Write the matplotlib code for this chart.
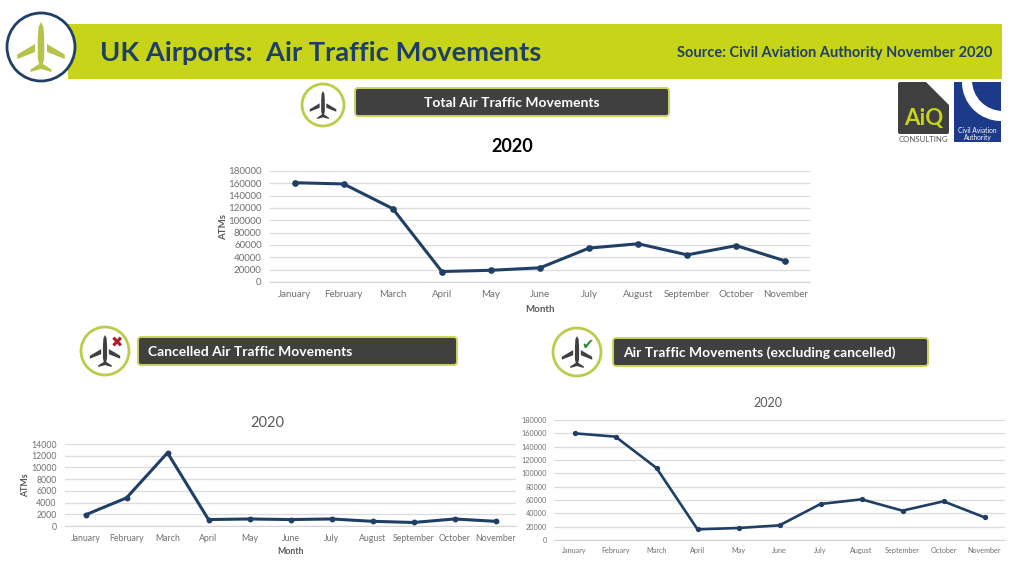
import matplotlib
matplotlib.use("Agg")
import matplotlib.pyplot as plt
from matplotlib.patches import Circle, FancyBboxPatch, Polygon, Rectangle

plt.rcParams['font.family'] = ['Lato', 'DejaVu Sans']

months = ["January", "February", "March", "April", "May", "June", "July",
          "August", "September", "October", "November"]
total_atms = [161000, 159000, 119000, 17000, 19000, 23000, 55000, 62000, 44000, 59000, 34000]
cancelled_atms = [1900, 4800, 12500, 1100, 1200, 1100, 1200, 800, 600, 1200, 800]
excluding_atms = [160000, 155000, 108000, 16000, 18000, 22000, 54000, 61000, 44000, 58000, 34000]
ticks_total = list(range(0, 180001, 20000))
ticks_cancelled = list(range(0, 14001, 2000))

NAVY = "#1F3F66"
LIME = "#C8D418"
W, H = 1024, 576
fig = plt.figure(figsize=(W / 100, H / 100), dpi=100, facecolor="white")

bg = fig.add_axes([0, 0, 1, 1], zorder=0)
bg.set_xlim(0, W)
bg.set_ylim(H, 0)
bg.axis("off")


def plane(ax, cx, cy, s, color):
    body = [(0, -1), (.1, -.8), (.13, -.3), (.13, .45), (.08, .68), (.42, .9), (.42, 1),
            (0, .88), (-.42, 1), (-.42, .9), (-.08, .68), (-.13, .45), (-.13, -.3), (-.1, -.8)]
    wing_r = [(.24, -.12), (.95, .3), (.95, .48), (.24, .2)]
    wing_l = [(-x, y) for x, y in wing_r]
    for pts in (body, wing_r, wing_l):
        ax.add_patch(Polygon([(cx + x * s, cy + y * s) for x, y in pts], closed=True,
                             fc=color, ec="none", zorder=5))


def pill(ax, x0, y0, x1, y1, label, tx, ha):
    ax.add_patch(FancyBboxPatch((x0 + 3, y0 + 3), x1 - x0 - 6, y1 - y0 - 6,
                                boxstyle="round,pad=3,rounding_size=3", fc="#404040",
                                ec="#C9D65A", lw=1.4, zorder=3))
    ax.text(tx, (y0 + y1) / 2 + 0.8, label, color="white", fontsize=10, fontweight="bold",
            ha=ha, va="center", zorder=4)


# Header band
bg.add_patch(Rectangle((68, 24), 934, 55, fc=LIME, ec="none"))
bg.add_patch(Circle((41, 47), 34, fc="white", ec=NAVY, lw=2, zorder=3))
plane(bg, 41, 47, 25, "#B5C34A")
bg.text(100, 53, "UK Airports:  Air Traffic Movements", color=NAVY, fontsize=19.7,
        fontweight="bold", ha="left", va="center", zorder=4)
bg.text(992, 53, "Source: Civil Aviation Authority November 2020", color=NAVY, fontsize=10.5,
        fontweight="bold", ha="right", va="center", zorder=4)

# Section labels
for (cx, cy, r) in [(323, 105, 21), (105, 351, 24), (577, 352, 24)]:
    bg.add_patch(Circle((cx, cy), r, fc="white", ec="#BDCB4B", lw=2, zorder=3))
plane(bg, 323, 105, 14, "#404040")
plane(bg, 105, 351, 16, "#404040")
plane(bg, 577, 352, 16, "#404040")
pill(bg, 355, 88, 669, 116, "Total Air Traffic Movements", 512, "center")
pill(bg, 138, 337, 457, 365, "Cancelled Air Traffic Movements", 148, "left")
pill(bg, 613, 338, 928, 366, "Air Traffic Movements (excluding cancelled)", 623, "left")
bg.text(117, 343, "\u2716", color="#B01E2E", fontsize=10.5, ha="center", va="center", zorder=6,
        family="DejaVu Sans")
bg.text(587, 345, "\u2714", color="#2E8B3A", fontsize=10.5, ha="center", va="center", zorder=6,
        family="DejaVu Sans")

# Logos
bg.add_patch(FancyBboxPatch((900, 84), 47, 48, boxstyle="round,pad=2,rounding_size=2",
                            fc="#3F3F3F", ec="none", zorder=2))
bg.add_patch(Polygon([(924, 80), (951, 80), (951, 107)], closed=True, fc="white", ec="none", zorder=3))
bg.text(924, 119, "AiQ", color="#C8D418", fontsize=16, fontweight="bold", ha="center", va="center", zorder=4)
bg.text(923.5, 139, "CONSULTING", color="#555555", fontsize=5.6, ha="center", va="center")
caa = Rectangle((954, 82), 47, 60, fc="#1D3A8A", ec="none", zorder=2)
bg.add_patch(caa)
crescent_outer = Circle((1001, 82), 39, fc="white", ec="none", zorder=3)
crescent_inner = Circle((1003, 80), 31, fc="#1D3A8A", ec="none", zorder=4)
bg.add_patch(crescent_outer)
bg.add_patch(crescent_inner)
crescent_outer.set_clip_path(caa)
crescent_inner.set_clip_path(caa)
bg.text(977.5, 134, "Civil Aviation\nAuthority", color="white", fontsize=4.8, ha="center",
        va="center", linespacing=0.95, zorder=5)


def chart(left, right, top, bottom, values, ticks, title, title_xy, title_style,
          tick_fs, ylabel_x=None, xlabel_y=None, xlabel_x=None, lw=2.0, ms=4.0, pad=6):
    ax = fig.add_axes([left / W, 1 - bottom / H, (right - left) / W, (bottom - top) / H], zorder=2)
    ax.patch.set_alpha(0)
    ax.plot(range(len(months)), values, color=NAVY, lw=lw, marker="o", ms=ms, zorder=3,
            clip_on=False)
    ax.set_xlim(-0.5, len(months) - 0.5)
    ax.set_ylim(ticks[0], ticks[-1])
    ax.set_yticks(ticks)
    ax.set_yticklabels([str(t) for t in ticks])
    ax.set_xticks(range(len(months)))
    ax.set_xticklabels(months)
    ax.tick_params(length=0, labelsize=tick_fs, labelcolor="#707070", pad=pad)
    ax.grid(axis="y", color="#DCDCDC", lw=0.9)
    ax.set_axisbelow(True)
    for s in ax.spines.values():
        s.set_visible(False)
    ax.spines["bottom"].set_visible(True)
    ax.spines["bottom"].set_color("#D5D5D5")
    bg.text(title_xy[0], title_xy[1], title, ha="center", va="center", **title_style)
    if ylabel_x is not None:
        bg.text(ylabel_x, (top + bottom) / 2, "ATMs", rotation=90, fontsize=tick_fs,
                fontweight="bold", color="#595959", ha="center", va="center")
    if xlabel_y is not None:
        bg.text(xlabel_x, xlabel_y, "Month", fontsize=tick_fs, fontweight="bold",
                color="#595959", ha="center", va="center")


chart(270, 810, 171, 282, total_atms, ticks_total, "2020", (512, 147),
      dict(fontsize=13, fontweight="bold", color="black"), 7,
      ylabel_x=224, xlabel_y=310, xlabel_x=540, lw=2.2, ms=3.8)
chart(65, 516, 444, 526, cancelled_atms, ticks_cancelled, "2020", (267, 423),
      dict(fontsize=10.5, color="#595959"), 6.3,
      ylabel_x=26, xlabel_y=552, xlabel_x=290, lw=2.2, ms=3.2)
chart(554, 1005, 420, 540, excluding_atms, ticks_total, "2020", (768, 403),
      dict(fontsize=9, color="#595959"), 5.2, lw=1.9, ms=2.8, pad=5)

fig.savefig("out.png", dpi=100, facecolor="white")
